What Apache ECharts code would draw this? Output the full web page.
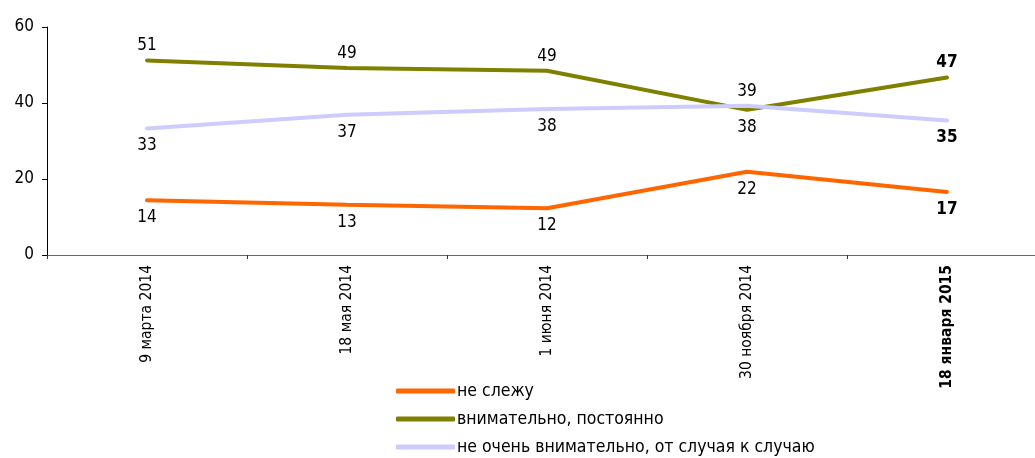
<!DOCTYPE html>
<html>
<head>
<meta charset="utf-8">
<script src="https://cdn.jsdelivr.net/npm/echarts@6/dist/echarts.min.js"></script>
<style>
  html, body { margin: 0; padding: 0; background: #fff; overflow: hidden; }
  #chart { width: 1047px; height: 458px; }
</style>
</head>
<body>
<div id="chart"></div>
<script>
var categories = ['9 марта 2014', '18 мая 2014', '1 июня 2014', '30 ноября 2014', '18 января 2015'];
var seriesNames = ['не слежу', 'внимательно, постоянно', 'не очень внимательно, от случая к случаю'];
var notFollowing = [14.4, 13.2, 12.3, 21.9, 16.6];
var attentive = [51.2, 49.2, 48.5, 38.2, 46.7];
var occasional = [33.3, 36.9, 38.4, 39.3, 35.4];
var colors = ['#FF6600', '#808000', '#CCCCFF'];

var FONT = '"DejaVu Sans Condensed", "DejaVu Sans", sans-serif';
var allSeries = [notFollowing, attentive, occasional];
var last = categories.length - 1;

// label goes above the line only where the series is the highest one
function buildData(values) {
    return values.map(function (v, i) {
        var isTop = allSeries.every(function (s) { return s[i] <= v; });
        return {
            value: v,
            label: {
                show: true,
                position: isTop ? 'top' : 'bottom',
                distance: isTop ? 5 : 8,
                fontWeight: i === last ? 'bold' : 'normal'
            }
        };
    });
}

var chartDom = document.getElementById('chart');
var myChart = echarts.init(chartDom);

var option = {
    animation: false,
    backgroundColor: '#fff',
    grid: { left: 47, top: 27, bottom: 203, right: 0 },
    legend: {
        orient: 'vertical',
        left: 391,
        top: 376,
        height: 80,
        itemWidth: 59,
        itemHeight: 5,
        itemGap: 8,
        icon: 'roundRect',
        textStyle: { fontFamily: FONT, fontSize: 17.5, lineHeight: 20, color: '#000', padding: [0, 0, 0, -3] },
        data: seriesNames
    },
    xAxis: {
        type: 'category',
        data: categories.map(function (c, i) {
            return { value: c, textStyle: { fontWeight: i === last ? 'bold' : 'normal' } };
        }),
        boundaryGap: true,
        axisLine: { lineStyle: { color: '#666', width: 1 } },
        axisTick: { show: true, length: 4, lineStyle: { color: '#333' } },
        axisLabel: { rotate: 90, margin: 10, fontFamily: FONT, fontSize: 15.5, color: '#000' }
    },
    yAxis: {
        type: 'value',
        min: 0,
        max: 60,
        interval: 20,
        splitLine: { show: false },
        axisLine: { show: true, lineStyle: { color: '#000', width: 1 } },
        axisTick: { show: true, length: 5, lineStyle: { color: '#000' } },
        axisLabel: { margin: 13, fontFamily: FONT, fontSize: 17, color: '#000' }
    },
    series: allSeries.map(function (vals, k) {
        return {
            name: seriesNames[k],
            type: 'line',
            data: buildData(vals),
            symbol: 'circle',
            symbolSize: 2,
            showSymbol: true,
            itemStyle: { color: colors[k] },
            color: colors[k],
            lineStyle: { width: 4, color: colors[k], cap: 'round' },
            label: {
                show: true,
                fontFamily: FONT,
                fontSize: 17,
                color: '#000',
                formatter: function (p) { return Math.round(p.value); }
            }
        };
    })
};

myChart.setOption(option);
</script>
</body>
</html>
